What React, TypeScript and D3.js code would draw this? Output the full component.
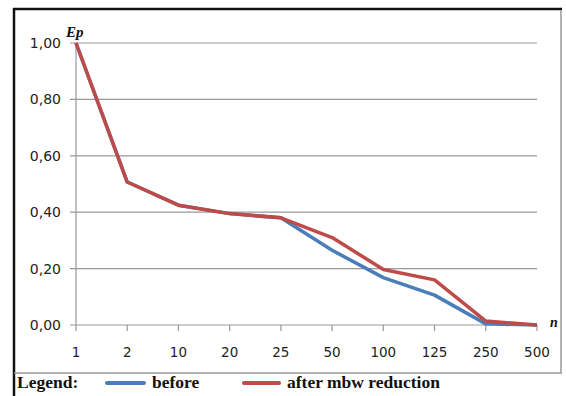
import React from "react";
import * as d3 from "d3";

const categories = ["1", "2", "10", "20", "25", "50", "100", "125", "250", "500"];
const before = [1.0, 0.507, 0.425, 0.395, 0.38, 0.265, 0.168, 0.106, 0.004, 0.0];
const afterMbw = [1.0, 0.507, 0.425, 0.395, 0.38, 0.31, 0.197, 0.16, 0.014, 0.0];
const yTicks = [0, 0.2, 0.4, 0.6, 0.8, 1.0];

const W = 566;
const H = 396;

const App: React.FC = () => {
  const x = d3.scalePoint<string>().domain(categories).range([76, 537]).padding(0);
  const y = d3.scaleLinear().domain([0, 1]).range([325, 43]);

  const line = d3
    .line<number>()
    .x((_, i) => x(categories[i]) as number)
    .y((d) => y(d));

  const fmt = (v: number) => v.toFixed(2).replace(".", ",");
  const axisFont = "Verdana, 'DejaVu Sans', sans-serif";
  const serif = "'Liberation Serif', 'DejaVu Serif', serif";

  return (
    <svg
      width={W}
      height={H}
      style={{ position: "absolute", left: 0, top: 0, background: "#fff" }}
    >
      {/* frame */}
      <line x1={13} x2={562} y1={9} y2={9} stroke="#111" strokeWidth={2.5} />
      <line x1={14} x2={14} y1={8} y2={396} stroke="#111" strokeWidth={2.5} />
      <line x1={561} x2={561} y1={10} y2={373} stroke="#999" strokeWidth={1.5} />
      <line x1={14} x2={562} y1={373} y2={373} stroke="#999" strokeWidth={1.5} />

      {/* grid + y ticks */}
      {yTicks.map((t) => (
        <g key={t}>
          <line x1={70} x2={537} y1={y(t)} y2={y(t)} stroke="#999" strokeWidth={1.2} />
          <text
            x={61}
            y={y(t)}
            dy="0.36em"
            textAnchor="end"
            fontFamily={axisFont}
            fontSize={14}
            fill="#222"
          >
            {fmt(t)}
          </text>
        </g>
      ))}
      <line x1={76} x2={76} y1={y(1)} y2={y(0)} stroke="#999" strokeWidth={1.2} />

      {/* x ticks */}
      {categories.map((c) => (
        <g key={c}>
          <line
            x1={x(c) as number}
            x2={x(c) as number}
            y1={y(0)}
            y2={y(0) + 6}
            stroke="#999"
            strokeWidth={1.2}
          />
          <text
            x={x(c) as number}
            y={357}
            textAnchor="middle"
            fontFamily={axisFont}
            fontSize={13.5}
            fill="#222"
          >
            {c}
          </text>
        </g>
      ))}

      {/* series */}
      <path d={line(before) ?? ""} fill="none" stroke="#4a7ebb" strokeWidth={3.5} strokeLinejoin="round" />
      <path d={line(afterMbw) ?? ""} fill="none" stroke="#be4b48" strokeWidth={3.5} strokeLinejoin="round" />

      {/* axis titles */}
      <text x={66} y={37} fontFamily={serif} fontStyle="italic" fontWeight="bold" fontSize={15} fill="#111">
        Ep
      </text>
      <text x={550} y={327} fontFamily={serif} fontStyle="italic" fontWeight="bold" fontSize={14} fill="#111">
        n
      </text>

      {/* legend */}
      <text x={17} y={388} fontFamily={serif} fontWeight="bold" fontSize={17.5} fill="#111">
        Legend:
      </text>
      <line x1={107} x2={144} y1={383} y2={383} stroke="#4a7ebb" strokeWidth={4} strokeLinecap="round" />
      <text x={152} y={388} fontFamily={serif} fontWeight="bold" fontSize={17.5} fill="#111">
        before
      </text>
      <line x1={244} x2={279} y1={383} y2={383} stroke="#be4b48" strokeWidth={4} strokeLinecap="round" />
      <text x={287} y={388} fontFamily={serif} fontWeight="bold" fontSize={17.5} fill="#111">
        after mbw reduction
      </text>
    </svg>
  );
};

export default App;
